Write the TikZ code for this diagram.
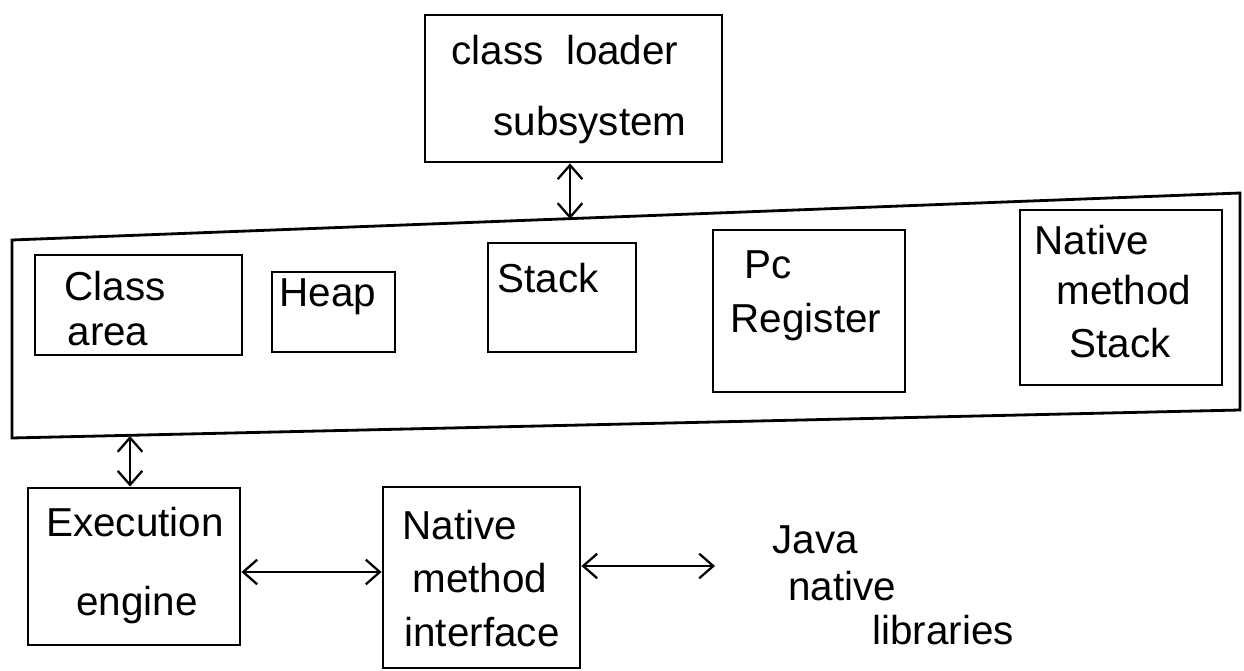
\documentclass[tikz,border=0pt]{standalone}
\usepackage{fontspec}
\setmainfont{Liberation Sans}
\usetikzlibrary{arrows.meta,fit}
\begin{document}
\begin{tikzpicture}[x=0.02cm,y=-0.02cm,
  box/.style={draw, line width=1.6pt, inner sep=0pt, fit={#1}},
  lbl/.style={font=\fontsize{23}{27}\selectfont, inner sep=0pt},
  dbl/.style={{Straight Barb[length=8pt,width=14pt]}-{Straight Barb[length=8pt,width=14pt]}, line width=1.3pt}]
\useasboundingbox (0,0) rectangle (1244,671);

% class loader subsystem
\node[box={(425,15)(722,162)}] (cls) {};
\node[lbl] (clsA) at (565,50) {class\ \ loader};
\node[lbl] (clsB) at (590,125) {subsystem};

% runtime data areas (big box)
\draw[line width=1.6pt] (12,240) -- (1240,193) -- (1240,410) -- (12,438) -- cycle;
\coordinate (bigtop) at (570,219);
\coordinate (bigbot) at (130,436);

\node[box={(35,255)(242,355)}] (ca) {};
\node[lbl] (caA) at (115,286) {Class};
\node[lbl] (caB) at (108,335) {area};

\node[box={(272,272)(395,352)}] (heap) {};
\node[lbl] (heapA) at (328,297) {Heap};

\node[box={(488,243)(636,352)}] (stk) {};
\node[lbl] (stkA) at (548,278) {Stack};

\node[box={(713,230)(905,392)}] (pc) {};
\node[lbl] (pcA) at (768,265) {Pc};
\node[lbl] (pcB) at (806,322) {Register};

\node[box={(1020,210)(1222,385)}] (nms) {};
\node[lbl] (nmsA) at (1092,240) {Native};
\node[lbl] (nmsB) at (1124,290) {method};
\node[lbl] (nmsC) at (1120,343) {Stack};

% execution engine
\node[box={(28,488)(240,645)}] (exe) {};
\node[lbl] (exeA) at (135,522) {Execution};
\node[lbl] (exeB) at (137,605) {engine};

% native method interface
\node[box={(383,487)(580,668)}] (nmi) {};
\node[lbl] (nmiA) at (460,525) {Native};
\node[lbl] (nmiB) at (480,578) {method};
\node[lbl] (nmiC) at (482,632) {interface};

% java native libraries
\node[lbl] (jA) at (815,540) {Java};
\node[lbl] (jB) at (842,586) {native};
\node[lbl] (jC) at (943,630) {libraries};

% connectors
\draw[dbl] (cls.south -| bigtop) -- (bigtop);
\draw[dbl] (bigbot) -- (bigbot |- exe.north);
\coordinate (r1) at (0,572);
\draw[dbl] (exe.east |- r1) -- (nmi.west |- r1);
\coordinate (jl) at (715,566);
\draw[dbl] (nmi.east |- jl) -- (jl);
\end{tikzpicture}
\end{document}
